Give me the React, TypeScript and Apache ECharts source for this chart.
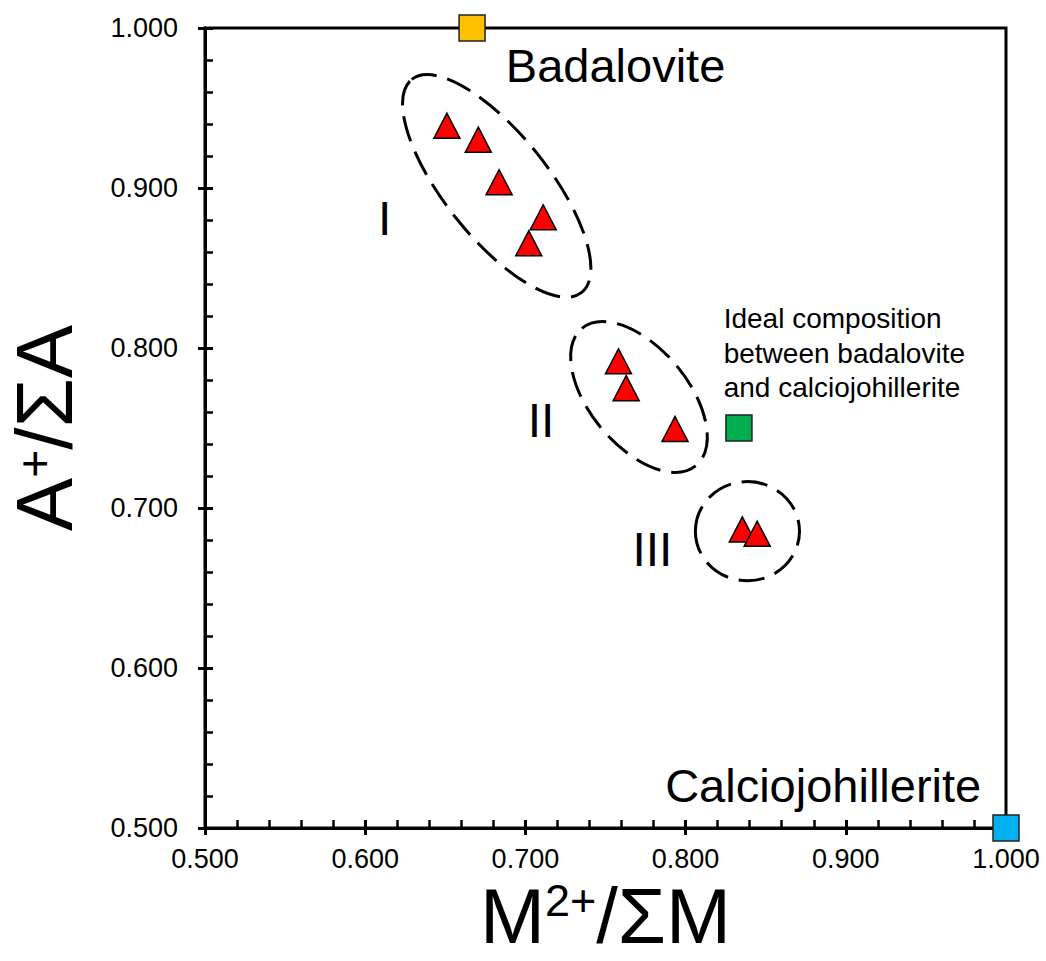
import React, { useEffect, useRef } from "react";
import * as echarts from "echarts";

// ---- axis ranges ----
const X_MIN = 0.5;
const X_MAX = 1.0;
const Y_MIN = 0.5;
const Y_MAX = 1.0;
const TICK_STEP = 0.1;

// ---- analysed samples (red triangles) ----
const sampleX = [0.651, 0.6706, 0.6836, 0.7111, 0.7021, 0.7581, 0.7629, 0.7934, 0.8354, 0.8447];
const sampleY = [0.9389, 0.9302, 0.9036, 0.8817, 0.8654, 0.7917, 0.7749, 0.7494, 0.6866, 0.6839];

// ---- end members / ideal composition (squares) ----
const endNames = [
  "Badalovite",
  "Calciojohillerite",
  "Ideal composition\nbetween badalovite\nand calciojohillerite",
];
const endX = [0.6667, 1.0, 0.8333];
const endY = [1.0, 0.5, 0.75];

// ---- sample groups (dashed ellipses), in data units ----
const groupNames = ["I", "II", "III"];
const groupCX = [0.6821, 0.7709, 0.8386];
const groupCY = [0.9013, 0.7694, 0.6855];
const groupMajor = [0.085, 0.0557, 0.0325];
const groupMinor = [0.0324, 0.0306, 0.031];
const groupTilt = [51.4, 50.3, 0];

// ---- styles ----
const FONT = "'Liberation Sans', Arial, Helvetica, sans-serif";
const endColors = ["#FFC000", "#00B0F0", "#00B050"];
const endLabelStyle = [
  { position: "right", align: "left", offset: [15, 37], fontSize: 47, lineHeight: 54 },
  { position: "left", align: "right", offset: [-6, -43], fontSize: 47, lineHeight: 54 },
  { position: "right", align: "left", offset: [-34, -75], fontSize: 28, lineHeight: 34.5 },
];
const groupLabelOffset = [
  [-112, 33],
  [-98, 24],
  [-95, 18],
];

export default function App() {
  const ref = useRef<HTMLDivElement>(null);

  useEffect(() => {
    if (!ref.current) return;
    const chart = echarts.init(ref.current, null, { renderer: "svg" });

    const fmt = (v: number) => v.toFixed(3);

    const mainAxisCommon = {
      type: "value",
      interval: TICK_STEP,
      axisLine: { show: true, onZero: false, lineStyle: { color: "#000", width: 3 } },
      axisTick: { show: true, inside: true, length: 8, lineStyle: { color: "#000", width: 3 } },
      minorTick: { show: true, splitNumber: 5, length: 8, lineStyle: { color: "#000", width: 2.5 } },
      splitLine: { show: false },
      minorSplitLine: { show: false },
    };
    const outerTickAxis = {
      type: "value",
      interval: TICK_STEP,
      axisLine: { show: false },
      axisTick: { show: true, inside: false, length: 7, lineStyle: { color: "#000", width: 3 } },
      minorTick: { show: false },
      axisLabel: { show: false },
      splitLine: { show: false },
    };

    const option: any = {
      animation: false,
      backgroundColor: "#fff",
      grid: {
        left: 205,
        top: 28,
        width: 801,
        height: 800,
        show: true,
        borderColor: "#000",
        borderWidth: 3,
        backgroundColor: "transparent",
        containLabel: false,
        outerBoundsMode: "none",
      },
      xAxis: [
        {
          ...mainAxisCommon,
          min: X_MIN,
          max: X_MAX,
          position: "bottom",
          axisLabel: {
            formatter: fmt,
            fontSize: 27,
            color: "#000",
            fontFamily: FONT,
            margin: 17,
          },
          name: "{b|M}{s|2+}{b|/ΣM}",
          nameLocation: "middle",
          nameGap: 48,
          nameTextStyle: {
            fontFamily: FONT,
            color: "#000",
            fontSize: 78,
            rich: {
              b: { fontSize: 78, fontFamily: FONT, color: "#000", lineHeight: 76 },
              s: { fontSize: 45, fontFamily: FONT, color: "#000", verticalAlign: "top", lineHeight: 76, padding: [0, 0, 18, 0] },
            },
          },
        },
        { ...outerTickAxis, min: X_MIN, max: X_MAX, position: "bottom" },
      ],
      yAxis: [
        {
          ...mainAxisCommon,
          min: Y_MIN,
          max: Y_MAX,
          position: "left",
          axisLabel: {
            formatter: fmt,
            fontSize: 27,
            color: "#000",
            fontFamily: FONT,
            margin: 27,
          },
          name: "{b|A}{s|+}{b|/ΣA}",
          nameLocation: "middle",
          nameGap: 127,
          nameTextStyle: {
            fontFamily: FONT,
            color: "#000",
            fontSize: 80,
            rich: {
              b: { fontSize: 80, fontFamily: FONT, color: "#000", lineHeight: 68 },
              s: { fontSize: 48, fontFamily: FONT, color: "#000", verticalAlign: "top", lineHeight: 68, padding: [0, 0, 12, 0] },
            },
          },
        },
        { ...outerTickAxis, min: Y_MIN, max: Y_MAX, position: "left" },
      ],
      series: [
        {
          type: "custom",
          name: "groups",
          coordinateSystem: "cartesian2d",
          clip: false,
          silent: true,
          encode: { x: 0, y: 1 },
          data: groupNames.map((_, i) => [groupCX[i], groupCY[i], groupMajor[i], groupMinor[i], groupTilt[i]]),
          renderItem: (params: any, api: any) => {
            const c = api.coord([api.value(0), api.value(1)]);
            const s = api.size([1, 1]);
            const i = params.dataIndex;
            const off = groupLabelOffset[i];
            return {
              type: "group",
              children: [
                {
                  type: "ellipse",
                  x: c[0],
                  y: c[1],
                  rotation: (-api.value(4) * Math.PI) / 180,
                  shape: { cx: 0, cy: 0, rx: api.value(2) * s[0], ry: api.value(3) * s[1] },
                  style: { fill: "none", stroke: "#000", lineWidth: 3, lineDash: [26, 11] },
                },
                {
                  type: "text",
                  x: c[0] + off[0],
                  y: c[1] + off[1],
                  style: {
                    text: groupNames[i],
                    fontSize: 48,
                    fontFamily: FONT,
                    fill: "#000",
                    align: "center",
                    verticalAlign: "middle",
                  },
                },
              ],
            };
          },
        },
        {
          type: "scatter",
          name: "samples",
          clip: false,
          symbol: "triangle",
          symbolSize: [26, 25],
          itemStyle: { color: "#FF0000", borderColor: "#000", borderWidth: 1.5, opacity: 1 },
          data: sampleX.map((x, i) => [x, sampleY[i]]),
          z: 3,
        },
        {
          type: "scatter",
          name: "end members",
          clip: false,
          symbol: "rect",
          symbolSize: 26,
          z: 4,
          data: endNames.map((n, i) => ({
            name: n,
            value: [endX[i], endY[i]],
            itemStyle: { color: endColors[i], borderColor: "#222", borderWidth: 1.5, opacity: 1 },
            label: {
              show: true,
              formatter: n,
              position: endLabelStyle[i].position,
              distance: 5,
              offset: endLabelStyle[i].offset,
              fontSize: endLabelStyle[i].fontSize,
              lineHeight: endLabelStyle[i].lineHeight,
              fontFamily: FONT,
              color: "#000",
              align: endLabelStyle[i].align,
            },
          })),
        },
      ],
    };

    chart.setOption(option);
    return () => chart.dispose();
  }, []);

  return (
    <div
      ref={ref}
      style={{ position: "fixed", left: 0, top: 0, width: 1046, height: 961, background: "#fff" }}
    />
  );
}
